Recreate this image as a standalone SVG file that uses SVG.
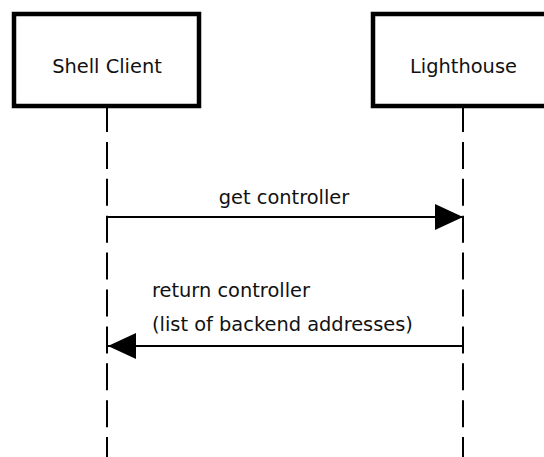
<svg xmlns="http://www.w3.org/2000/svg" width="544" height="457" viewBox="0 0 544 457">
  <style>
    .actor { fill: #ffffff; stroke: #000000; stroke-width: 4.5; }
    .label { font-family: "DejaVu Sans", sans-serif; font-size: 19.4px; fill: #111111; }
    .lifeline { stroke: #000000; stroke-width: 2; stroke-dasharray: 27 9.9; fill: none; }
    .msg { stroke: #000000; stroke-width: 2; fill: none; }
  </style>
  <defs>
    <marker id="head" viewBox="0 0 28 26" refX="28" refY="13" markerWidth="28" markerHeight="26" markerUnits="userSpaceOnUse" orient="auto">
      <path d="M0,0 L28,13 L0,26 Z" fill="#000000"/>
    </marker>
  </defs>
  <rect width="544" height="457" fill="#ffffff"/>

  <!-- lifelines -->
  <g id="lifelines">
    <line class="lifeline" x1="107" y1="105" x2="107" y2="457"/>
    <line class="lifeline" x1="463" y1="105" x2="463" y2="457"/>
  </g>

  <g id="shell-client">
    <rect class="actor" x="14" y="14" width="185" height="92"/>
    <text class="label" x="107" y="73" text-anchor="middle">Shell Client</text>
  </g>

  <g id="lighthouse">
    <rect class="actor" x="373" y="14" width="180" height="92"/>
    <text class="label" x="463.5" y="73" text-anchor="middle">Lighthouse</text>
  </g>

  <!-- messages -->
  <g id="connectors">
    <line class="msg" x1="107" y1="217" x2="463" y2="217" marker-end="url(#head)"/>
    <text class="label" x="284" y="204" text-anchor="middle">get controller</text>
    <line class="msg" x1="463" y1="346" x2="108" y2="346" marker-end="url(#head)"/>
    <text class="label" x="152" y="297">return controller</text>
    <text class="label" x="152" y="331">(list of backend addresses)</text>
  </g>
</svg>
